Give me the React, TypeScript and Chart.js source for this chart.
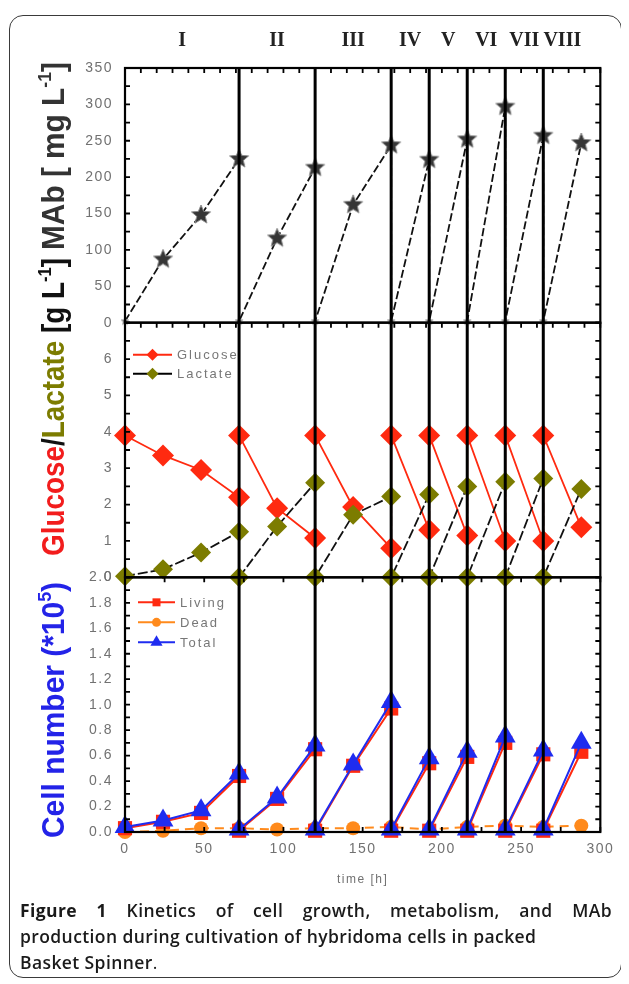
import React, { useEffect, useRef } from 'react';
import { Chart, registerables } from 'chart.js';

Chart.register(...registerables);

// ---------------- data ----------------
const phaseEdges = [0, 72, 120, 168, 192, 216, 240, 264, 288];
const phaseLabels = ['I', 'II', 'III', 'IV', 'V', 'VI', 'VII', 'VIII'];
const separatorTimes = [72, 120, 168, 192, 216, 240, 264];

const sampleTime = [0, 24, 48, 72, 72, 96, 120, 120, 144, 168, 168, 192, 192, 216, 216, 240, 240, 264, 264, 288];
const mabValues = [2, 87, 148, 225, 2, 116, 213, 2, 162, 244, 2, 224, 2, 252, 2, 297, 2, 257, 2, 247];
const glucoseValues = [3.9, 3.35, 2.95, 2.2, 3.9, 1.9, 1.08, 3.9, 1.93, 0.8, 3.9, 1.3, 3.9, 1.15, 3.9, 1.0, 3.9, 1.0, 3.9, 1.38];
const lactateValues = [0.03, 0.22, 0.68, 1.25, 0, 1.4, 2.6, 0, 1.72, 2.22, 0, 2.28, 0, 2.5, 0, 2.63, 0, 2.72, 0, 2.43];
const totalCells = [0.04, 0.09, 0.17, 0.46, 0.02, 0.27, 0.68, 0.02, 0.53, 1.02, 0.02, 0.58, 0.02, 0.63, 0.02, 0.75, 0.02, 0.64, 0.02, 0.7];
const livingCells = [0.03, 0.08, 0.15, 0.44, 0.01, 0.26, 0.65, 0.01, 0.52, 0.97, 0.01, 0.54, 0.01, 0.59, 0.01, 0.7, 0.01, 0.61, 0.01, 0.63];
const deadTime = [0, 24, 48, 72, 96, 120, 144, 168, 192, 216, 240, 264, 288];
const deadCells = [0.0, 0.01, 0.03, 0.03, 0.02, 0.03, 0.03, 0.04, 0.02, 0.04, 0.05, 0.04, 0.05];

const timeTicks = [0, 50, 100, 150, 200, 250, 300];
const mabTicks = [0, 50, 100, 150, 200, 250, 300, 350];
const sugarTicks = [0, 1, 2, 3, 4, 5, 6];
const cellTicks = [0, 0.2, 0.4, 0.6, 0.8, 1.0, 1.2, 1.4, 1.6, 1.8, 2.0];

// ---------------- styles ----------------
const SANS = '"Liberation Sans", Arial, sans-serif';
const SERIF = '"Liberation Serif", "Times New Roman", serif';
const TICK_GRAY = '#717171';
const RED = '#ff2a10';
const OLIVE = '#7c7c00';
const BLUE = '#1f2cf0';
const ORANGE = '#ff8a1c';
const TITLE_BLUE = '#2323e8';
const TITLE_RED = '#f21d1d';

function starImage(r: number, fill: string, edge: string) {
  const size = Math.ceil(r * 2 + 2);
  const c = document.createElement('canvas');
  c.width = size;
  c.height = size;
  const g = c.getContext('2d') as CanvasRenderingContext2D;
  g.beginPath();
  for (let i = 0; i < 10; i++) {
    const a = -Math.PI / 2 + (i * Math.PI) / 5;
    const rr = i % 2 === 0 ? r : r * 0.45;
    g.lineTo(size / 2 + rr * Math.cos(a), size / 2 + rr * Math.sin(a));
  }
  g.closePath();
  g.fillStyle = fill;
  g.fill();
  g.strokeStyle = edge;
  g.lineWidth = 1;
  g.stroke();
  return c;
}

function pts(xs: number[], ys: number[]) {
  return xs.map((x, i) => ({ x, y: ys[i] }));
}

function marker(ctx: CanvasRenderingContext2D, kind: string, x: number, y: number, r: number, color: string) {
  ctx.beginPath();
  if (kind === 'diamond') {
    ctx.moveTo(x - r, y);
    ctx.lineTo(x, y - r);
    ctx.lineTo(x + r, y);
    ctx.lineTo(x, y + r);
  } else if (kind === 'square') {
    ctx.rect(x - r, y - r, 2 * r, 2 * r);
  } else if (kind === 'circle') {
    ctx.arc(x, y, r, 0, Math.PI * 2);
  } else {
    ctx.moveTo(x, y - r);
    ctx.lineTo(x + r * 0.87, y + r * 0.5);
    ctx.lineTo(x - r * 0.87, y + r * 0.5);
  }
  ctx.closePath();
  ctx.fillStyle = color;
  ctx.fill();
}

// rotated y-axis titles: start = canvas y where text begins (bottom), length = extent upward
const titleGroups = [
  {
    start: 830,
    length: 256,
    parts: [
      { t: 'Cell number (*10', c: TITLE_BLUE },
      { t: '5', c: TITLE_BLUE, sup: true },
      { t: ')', c: TITLE_BLUE },
    ],
  },
  {
    start: 548,
    length: 298,
    parts: [
      { t: 'Glucose', c: TITLE_RED },
      { t: '/', c: '#111' },
      { t: 'Lactate', c: OLIVE },
      { t: ' [g L', c: '#111' },
      { t: '-1', c: '#111', sup: true },
      { t: ']', c: '#111' },
    ],
  },
  {
    start: 242,
    length: 188,
    parts: [
      { t: 'MAb [ mg L', c: '#333' },
      { t: '-1', c: '#333', sup: true },
      { t: ']', c: '#333' },
    ],
  },
];

const panelSpecs = [
  { id: 'yMab', yStep: 25, xTop: 10, xBottom: 0 },
  { id: 'yGlu', yStep: 0.5, xTop: 10, xBottom: 0 },
  { id: 'yCell', yStep: 0.1, xTop: 25, xBottom: 25 },
];

const legends = [
  {
    id: 'yGlu',
    lineFrom: 8,
    lineTo: 47,
    textAt: 52,
    rows: [
      { dy: 32, label: 'Glucose', line: RED, kind: 'diamond', color: RED, r: 6 },
      { dy: 51, label: 'Lactate', line: '#000', kind: 'diamond', color: OLIVE, r: 6 },
    ],
  },
  {
    id: 'yCell',
    lineFrom: 13,
    lineTo: 50,
    textAt: 55,
    rows: [
      { dy: 25, label: 'Living', line: RED, kind: 'square', color: RED, r: 4 },
      { dy: 45, label: 'Dead', line: ORANGE, kind: 'circle', color: ORANGE, r: 4.5 },
      { dy: 65, label: 'Total', line: BLUE, kind: 'triangle', color: BLUE, r: 7 },
    ],
  },
];

export default function App() {
  const ref = useRef<HTMLCanvasElement>(null);

  useEffect(() => {
    const canvas = ref.current as HTMLCanvasElement;
    const bigStar = starImage(10, '#363636', '#8c8c8c');
    const smallStar = starImage(4, '#666', '#aaa');

    const decor = {
      id: 'decor',
      beforeDraw(chart: any) {
        chart.ctx.letterSpacing = '1.5px';
      },
      afterDatasetsDraw(chart: any) {
        const ctx = chart.ctx as CanvasRenderingContext2D;
        const area = chart.chartArea;
        const xs = chart.scales.x;
        ctx.save();
        (ctx as any).letterSpacing = '0px';

        // phase separators
        ctx.strokeStyle = '#000';
        ctx.lineWidth = 3;
        for (const t of separatorTimes) {
          const px = xs.getPixelForValue(t);
          ctx.beginPath();
          ctx.moveTo(px, area.top);
          ctx.lineTo(px, area.bottom);
          ctx.stroke();
        }

        // inward ticks + panel frames
        const tl = 5;
        for (const p of panelSpecs) {
          const s = chart.scales[p.id];
          ctx.lineWidth = 1.8;
          ctx.beginPath();
          for (let v = s.min; v <= s.max + 1e-9; v += p.yStep) {
            const py = s.getPixelForValue(v);
            ctx.moveTo(area.left, py);
            ctx.lineTo(area.left + tl, py);
            ctx.moveTo(area.right, py);
            ctx.lineTo(area.right - tl, py);
          }
          if (p.xTop) {
            for (let t = xs.min; t <= xs.max + 1e-9; t += p.xTop) {
              const px = xs.getPixelForValue(t);
              ctx.moveTo(px, s.top);
              ctx.lineTo(px, s.top + tl);
            }
          }
          if (p.xBottom) {
            for (let t = xs.min; t <= xs.max + 1e-9; t += p.xBottom) {
              const px = xs.getPixelForValue(t);
              ctx.moveTo(px, s.bottom);
              ctx.lineTo(px, s.bottom - tl);
            }
          }
          ctx.stroke();
          ctx.lineWidth = 2.2;
          ctx.strokeRect(area.left, s.top, area.right - area.left, s.bottom - s.top);
        }

        // legends
        for (const lg of legends) {
          const s = chart.scales[lg.id];
          for (const row of lg.rows) {
            const y = s.top + row.dy;
            ctx.strokeStyle = row.line;
            ctx.lineWidth = 2;
            ctx.beginPath();
            ctx.moveTo(area.left + lg.lineFrom, y);
            ctx.lineTo(area.left + lg.lineTo, y);
            ctx.stroke();
            marker(ctx, row.kind, area.left + (lg.lineFrom + lg.lineTo) / 2, y, row.r, row.color);
            (ctx as any).letterSpacing = '2px';
            ctx.font = `13px ${SANS}`;
            ctx.fillStyle = '#777';
            ctx.textBaseline = 'middle';
            ctx.textAlign = 'left';
            ctx.fillText(row.label, area.left + lg.textAt, y + 1);
            (ctx as any).letterSpacing = '0px';
          }
        }

        // roman numerals for phases
        ctx.font = `bold 20px ${SERIF}`;
        ctx.fillStyle = '#222';
        ctx.textAlign = 'center';
        ctx.textBaseline = 'middle';
        for (let i = 0; i < phaseLabels.length; i++) {
          const cx = xs.getPixelForValue((phaseEdges[i] + phaseEdges[i + 1]) / 2);
          ctx.fillText(phaseLabels[i], cx, area.top - 27);
        }

        // rotated y titles, each compressed to its own length
        ctx.save();
        ctx.translate(56, 0);
        ctx.rotate(-Math.PI / 2);
        ctx.textAlign = 'left';
        ctx.textBaseline = 'alphabetic';
        for (const g of titleGroups) {
          let natural = 0;
          for (const part of g.parts as any[]) {
            ctx.font = `bold ${part.sup ? 19 : 32}px ${SANS}`;
            natural += ctx.measureText(part.t).width;
          }
          const sx = g.length / natural;
          let u = -g.start;
          for (const part of g.parts as any[]) {
            ctx.font = `bold ${part.sup ? 19 : 32}px ${SANS}`;
            const w = ctx.measureText(part.t).width * sx;
            ctx.save();
            ctx.translate(u, part.sup ? -13 : 0);
            ctx.scale(sx, 1);
            ctx.fillStyle = part.c;
            ctx.fillText(part.t, 0, 0);
            ctx.restore();
            u += w;
          }
        }
        ctx.restore();

        ctx.restore();
      },
      afterDraw(chart: any) {
        chart.ctx.letterSpacing = '0px';
      },
    };

    const yBase = (min: number, max: number, list: number[], fmt: (v: number) => string) => ({
      type: 'linear' as const,
      position: 'left' as const,
      stack: 'panels',
      stackWeight: 1,
      min,
      max,
      grid: { display: false, drawTicks: false },
      border: { display: false },
      afterBuildTicks: (s: any) => {
        s.ticks = list.map((v) => ({ value: v }));
      },
      afterFit: (s: any) => {
        s.width = 117;
      },
      ticks: {
        autoSkip: false,
        padding: 12,
        color: TICK_GRAY,
        font: { family: SANS, size: 14 },
        callback: (v: any) => fmt(Number(v)),
      },
    });

    const chart = new Chart(canvas, {
      type: 'line',
      data: {
        datasets: [
          {
            label: 'MAb',
            yAxisID: 'yMab',
            data: pts(sampleTime, mabValues),
            borderColor: '#111',
            borderWidth: 1.8,
            borderDash: [8, 3],
            pointStyle: (c: any) => ((c.raw && c.raw.y < 10) ? smallStar : bigStar) as any,
            pointRadius: 9,
            clip: false as any,
          },
          {
            label: 'Lactate',
            yAxisID: 'yGlu',
            data: pts(sampleTime, lactateValues),
            borderColor: '#111',
            borderWidth: 1.8,
            borderDash: [10, 3],
            pointStyle: 'rectRot',
            pointRadius: 10,
            pointBackgroundColor: OLIVE,
            pointBorderWidth: 0,
            clip: false as any,
          },
          {
            label: 'Glucose',
            yAxisID: 'yGlu',
            data: pts(sampleTime, glucoseValues),
            borderColor: RED,
            borderWidth: 1.8,
            pointStyle: 'rectRot',
            pointRadius: 11,
            pointBackgroundColor: RED,
            pointBorderWidth: 0,
            clip: false as any,
          },
          {
            label: 'Total',
            yAxisID: 'yCell',
            data: pts(sampleTime, totalCells),
            borderColor: BLUE,
            borderWidth: 2,
            pointStyle: 'triangle',
            pointRadius: 12,
            pointBackgroundColor: BLUE,
            pointBorderWidth: 0,
            clip: false as any,
          },
          {
            label: 'Living',
            yAxisID: 'yCell',
            data: pts(sampleTime, livingCells),
            borderColor: RED,
            borderWidth: 2,
            pointStyle: 'rect',
            pointRadius: 10,
            pointBackgroundColor: RED,
            pointBorderWidth: 0,
            clip: false as any,
          },
          {
            label: 'Dead',
            yAxisID: 'yCell',
            data: pts(deadTime, deadCells),
            borderColor: ORANGE,
            borderWidth: 2,
            borderDash: [9, 6],
            pointStyle: 'circle',
            pointRadius: 7,
            pointBackgroundColor: ORANGE,
            pointBorderWidth: 0,
            clip: false as any,
          },
        ] as any,
      },
      options: {
        responsive: false,
        animation: false,
        events: [],
        layout: { padding: { left: 0, right: 16, top: 60, bottom: 0 } },
        plugins: { legend: { display: false }, tooltip: { enabled: false } },
        elements: { line: { tension: 0 } },
        scales: {
          x: {
            type: 'linear',
            position: 'bottom',
            min: 0,
            max: 300,
            grid: { display: false, drawTicks: false },
            border: { display: false },
            afterBuildTicks: (s: any) => {
              s.ticks = timeTicks.map((v) => ({ value: v }));
            },
            afterFit: (s: any) => {
              s.height = 66;
            },
            ticks: {
              autoSkip: false,
              maxRotation: 0,
              padding: 9,
              color: TICK_GRAY,
              font: { family: SANS, size: 14 },
              callback: (v: any) => String(v),
            },
            title: {
              display: true,
              text: 'time [h]',
              color: TICK_GRAY,
              font: { family: SANS, size: 12 },
              padding: { top: 0, bottom: 11 },
            },
          },
          yCell: yBase(0, 2, cellTicks, (v) => v.toFixed(1)),
          yGlu: yBase(0, 7, sugarTicks, (v) => String(v)),
          yMab: yBase(0, 350, mabTicks, (v) => String(v)),
        } as any,
      },
      plugins: [decor],
    });
    return () => chart.destroy();
  }, []);

  return (
    <div style={{ position: 'relative', width: 614, height: 970 }}>
      <div
        style={{
          position: 'absolute',
          left: 1,
          top: 7,
          width: 613,
          height: 963,
          boxSizing: 'border-box',
          border: '1.5px solid #3a3a3a',
          borderRadius: 14,
        }}
      />
      <canvas
        ref={ref}
        width={613}
        height={890}
        style={{ position: 'absolute', left: 0, top: 0, width: 613, height: 890 }}
      />
      <div
        style={{
          position: 'absolute',
          left: 12,
          top: 889,
          width: 592,
          fontFamily: '"Open Sans", sans-serif',
          fontWeight: 600,
          fontSize: 17.5,
          letterSpacing: '0.4px',
          lineHeight: '26px',
          color: '#1a1a1a',
        }}
      >
        <div style={{ textAlign: 'justify', textAlignLast: 'justify' as any }}>
          <span style={{ fontWeight: 700 }}>Figure 1</span> Kinetics of cell growth, metabolism, and MAb
        </div>
        <div>production during cultivation of hybridoma cells in packed</div>
        <div>
          Basket Spinner<span style={{ fontWeight: 400 }}>.</span>
        </div>
      </div>
    </div>
  );
}
